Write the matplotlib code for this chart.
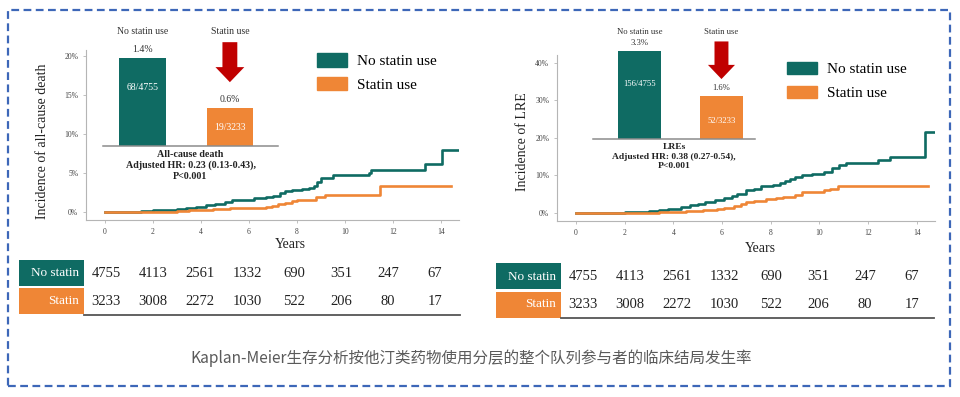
import matplotlib
matplotlib.use('Agg')
import numpy as np
import matplotlib.pyplot as plt
from matplotlib.patches import Rectangle, FancyArrow, Patch


TEAL = '#0f6b63'
ORANGE = '#ef8636'
RED = '#c00000'
SERIF = 'Liberation Serif'

GROUPS = ['No statin use', 'Statin use']
ROW_LABELS = ['No statin', 'Statin']
YEAR_TICKS = [0, 2, 4, 6, 8, 10, 12, 14]

# all-cause death, cumulative incidence (%)
death_t_no = [0, 1.0, 1.5, 2.0, 2.5, 3.0, 3.4, 3.8, 4.2, 4.6, 5.0, 5.3, 5.8, 6.2, 6.7, 7.0,
              7.3, 7.5, 7.8, 8.2, 8.5, 8.7, 8.85, 9.0, 9.5, 11.0, 11.1, 13.35, 14.05, 14.75]
death_y_no = [0, 0.05, 0.1, 0.2, 0.3, 0.4, 0.5, 0.7, 0.9, 1.0, 1.3, 1.5, 1.6, 1.8, 1.9, 2.1,
              2.4, 2.7, 2.8, 2.9, 3.1, 3.3, 3.9, 4.4, 4.7, 5.0, 5.4, 6.2, 7.9, 7.9]
death_t_st = [0, 2.5, 3.0, 3.5, 4.0, 4.5, 5.2, 5.8, 6.7, 6.95, 7.2, 7.5, 7.8, 8.0, 8.8,
              9.17, 11.45, 14.4]
death_y_st = [0, 0.05, 0.1, 0.2, 0.3, 0.4, 0.45, 0.55, 0.65, 0.8, 1.0, 1.2, 1.4, 1.6, 1.95,
              2.2, 3.33, 3.33]

# liver-related events, cumulative incidence (%)
lre_t_no = [0, 1.0, 2.0, 2.5, 3.0, 3.4, 3.8, 4.3, 4.7, 5.0, 5.3, 5.7, 6.1, 6.4, 6.6, 7.0,
            7.3, 7.6, 8.1, 8.4, 8.6, 8.8, 9.0, 9.3, 9.7, 10.2, 10.5, 10.8, 11.1, 12.4, 12.9,
            14.35, 14.7]
lre_y_no = [0, 0.1, 0.2, 0.3, 0.5, 0.7, 1.0, 1.5, 2.0, 2.5, 3.0, 3.5, 4.0, 4.5, 5.0, 6.0,
            6.5, 7.2, 7.5, 8.0, 8.5, 9.0, 9.5, 10.0, 10.5, 11.0, 12.0, 12.8, 13.4, 14.1, 14.85,
            21.7, 21.7]
lre_t_st = [0, 2.5, 3.4, 4.0, 4.5, 5.2, 5.8, 6.1, 6.5, 6.8, 7.0, 7.3, 7.8, 8.2, 8.5, 9.0,
            9.3, 10.2, 10.45, 10.75, 14.45]
lre_y_st = [0, 0.1, 0.2, 0.3, 0.5, 0.8, 1.1, 1.3, 1.8, 2.5, 3.0, 3.2, 3.6, 4.0, 4.2, 4.8,
            5.5, 6.0, 6.4, 7.3, 7.3]

# inset bars
death_pct = [1.4, 0.6]
death_counts = ['68/4755', '19/3233']
lre_pct = [3.3, 1.6]
lre_counts = ['156/4755', '52/3233']

# numbers at risk
risk_no = [4755, 4113, 2561, 1332, 690, 351, 247, 67]
risk_st = [3233, 3008, 2272, 1030, 522, 206, 80, 17]

CAPTION = 'Kaplan-Meier生存分析按他汀类药物使用分层的整个队列参与者的临床结局发生率'

W, H = 960, 397


def px_axes(fig, left, top, right, bottom):
    return fig.add_axes([left / W, 1 - bottom / H, (right - left) / W, (bottom - top) / H])


def km_panel(fig, box, t_no, y_no, t_st, y_st, ylim, yticks, ylabel, ylab_xy, xlab_xy):
    ax = px_axes(fig, *box)
    ax.step(t_no, y_no, where='post', color=TEAL, lw=1.9)
    ax.step(t_st, y_st, where='post', color=ORANGE, lw=1.9)
    ax.set_xlim(-0.78, 14.75)
    ax.set_ylim(*ylim)
    ax.set_xticks(YEAR_TICKS)
    ax.set_yticks(yticks)
    ax.set_yticklabels(['%d%%' % v for v in yticks])
    for s in ['top', 'right']:
        ax.spines[s].set_visible(False)
    for s in ['left', 'bottom']:
        ax.spines[s].set_color('#b5b5b5')
        ax.spines[s].set_linewidth(0.8)
    ax.tick_params(labelsize=5.5, colors='#444444', length=2, width=0.6, color='#b5b5b5')
    for lab in ax.get_xticklabels() + ax.get_yticklabels():
        lab.set_family(SERIF)
    ax.set_ylabel(ylabel, family=SERIF, fontsize=10, color='#222222')
    ax.yaxis.set_label_coords(*ylab_xy)
    ax.set_xlabel('Years', family=SERIF, fontsize=10, color='#222222')
    ax.xaxis.set_label_coords(*xlab_xy)
    ax.patch.set_alpha(0)

    handles = [Patch(facecolor=TEAL, edgecolor=TEAL), Patch(facecolor=ORANGE, edgecolor=ORANGE)]
    return ax, handles


def inset_bars(fig, box, pct, counts, xlim, ylim, count_frac, title_lines, fs_lab, fs_bold, ls):
    ax = px_axes(fig, *box)
    x = np.arange(len(pct))
    ax.bar(x, pct, width=0.53, color=[TEAL, ORANGE])
    ax.set_xlim(*xlim)
    ax.set_ylim(*ylim)
    ax.set_xticks([])
    ax.set_yticks([])
    for s in ['top', 'right', 'left']:
        ax.spines[s].set_visible(False)
    ax.spines['bottom'].set_color('#8c8c8c')
    ax.spines['bottom'].set_linewidth(1.1)
    ax.patch.set_alpha(0)

    tr = ax.get_xaxis_transform()
    for i, (p, c) in enumerate(zip(pct, counts)):
        ax.text(x[i], 0.985, GROUPS[i], transform=tr, ha='center', va='center',
                family=SERIF, fontsize=fs_lab, color='#333333')
        ax.annotate('%.1f%%' % p, (x[i], p), xytext=(0, 6), textcoords='offset points',
                    ha='center', va='center', family=SERIF, fontsize=fs_lab, color='#333333')
        ax.text(x[i], p * count_frac[i], c, ha='center', va='center',
                family=SERIF, fontsize=fs_lab, color='white')

    arrow = FancyArrow(x[1], 0.895, 0, -0.345, width=0.17, head_width=0.33,
                       head_length=0.13, length_includes_head=True,
                       transform=tr, color=RED, lw=0)
    ax.add_patch(arrow)

    ax.text(0.5, -0.035, '\n'.join(title_lines), transform=ax.transAxes, ha='center',
            va='top', family=SERIF, fontsize=fs_bold, fontweight='bold', color='#222222',
            linespacing=ls)
    return ax


def risk_table(fig, lab_box, num_box, xlim):
    lab = px_axes(fig, *lab_box)
    lab.set_xlim(0, 1)
    lab.set_ylim(0, 2)
    lab.axhspan(1.04, 2, color=TEAL, lw=0)
    lab.axhspan(0, 0.96, color=ORANGE, lw=0)
    lab.text(0.92, 1.5, ROW_LABELS[0], ha='right', va='center', family=SERIF,
             fontsize=9.5, color='white')
    lab.text(0.92, 0.5, ROW_LABELS[1], ha='right', va='center', family=SERIF,
             fontsize=9.5, color='white')
    lab.axis('off')

    ax = px_axes(fig, *num_box)
    ax.set_xlim(*xlim)
    ax.set_ylim(0, 2)
    for i, (a, b) in enumerate(zip(risk_no, risk_st)):
        ax.text(i, 1.5, str(a), ha='center', va='center', family=SERIF, fontsize=10.5,
                color='#222222')
        ax.text(i, 0.5, str(b), ha='center', va='center', family=SERIF, fontsize=10.5,
                color='#222222')
    for s in ['top', 'right', 'left']:
        ax.spines[s].set_visible(False)
    ax.spines['bottom'].set_color('#555555')
    ax.spines['bottom'].set_linewidth(1.3)
    ax.set_xticks([])
    ax.set_yticks([])
    ax.patch.set_alpha(0)


fig = plt.figure(figsize=(W / 100, H / 100), dpi=100)
fig.patch.set_facecolor('white')

# left panel: all-cause death
axl, handles = km_panel(fig, (86, 50, 459, 220), death_t_no, death_y_no, death_t_st, death_y_st,
                        (-1.03, 20.8), [0, 5, 10, 15, 20], 'Incidence of all-cause death',
                        (-0.099, 0.465), (0.547, -0.106))
axl.legend(handles, GROUPS, loc='upper left', bbox_to_anchor=((317 - 86) / 373, 1 - (53 - 50) / 170),
           frameon=False, borderpad=0, borderaxespad=0, handlelength=1.96, handleheight=1.0,
           handletextpad=0.65, labelspacing=0.57, prop={'family': SERIF, 'size': 11})
inset_bars(fig, (103, 30, 278, 146), death_pct, death_counts, (-0.45, 1.55), (0, 1.845),
           [0.67, 0.5], ['All-cause death', 'Adjusted HR: 0.23 (0.13-0.43),', 'P<0.001'],
           7.0, 7.2, 1.2)

# right panel: LRE
axr, handles = km_panel(fig, (557, 55, 935, 221), lre_t_no, lre_y_no, lre_t_st, lre_y_st,
                        (-2.13, 42.1), [0, 10, 20, 30, 40], 'Incidence of LRE',
                        (-0.074, 0.476), (0.537, -0.127))
axr.legend(handles, GROUPS, loc='upper left', bbox_to_anchor=((787 - 557) / 378, 1 - (62 - 55) / 166),
           frameon=False, borderpad=0, borderaxespad=0, handlelength=1.96, handleheight=0.85,
           handletextpad=0.65, labelspacing=0.6, prop={'family': SERIF, 'size': 11})
inset_bars(fig, (593, 30, 755, 139), lre_pct, lre_counts, (-0.567, 1.409), (0, 4.09),
           [0.62, 0.42], ['LREs', 'Adjusted HR: 0.38 (0.27-0.54),', 'P<0.001'],
           6.2, 6.8, 1.3)

# numbers at risk
risk_table(fig, (19, 260, 84, 314), (84, 260, 460, 315), (-0.468, 7.532))
risk_table(fig, (496, 263, 561, 318), (561, 263, 934, 318), (-0.468, 7.468))

fig.text(471 / W, 1 - 358 / H, CAPTION, ha='center', va='center', fontsize=11.2, color='#5a5a5a',
         family=['Noto Sans CJK SC', 'DejaVu Sans'])

border = Rectangle((8 / W, 1 - 386 / H), (950 - 8) / W, (386 - 10) / H, transform=fig.transFigure,
                   fill=False, edgecolor='#3d67b8', lw=1.6, ls=(0, (3.5, 2)))
fig.patches.append(border)

fig.savefig('out.png', dpi=100)
